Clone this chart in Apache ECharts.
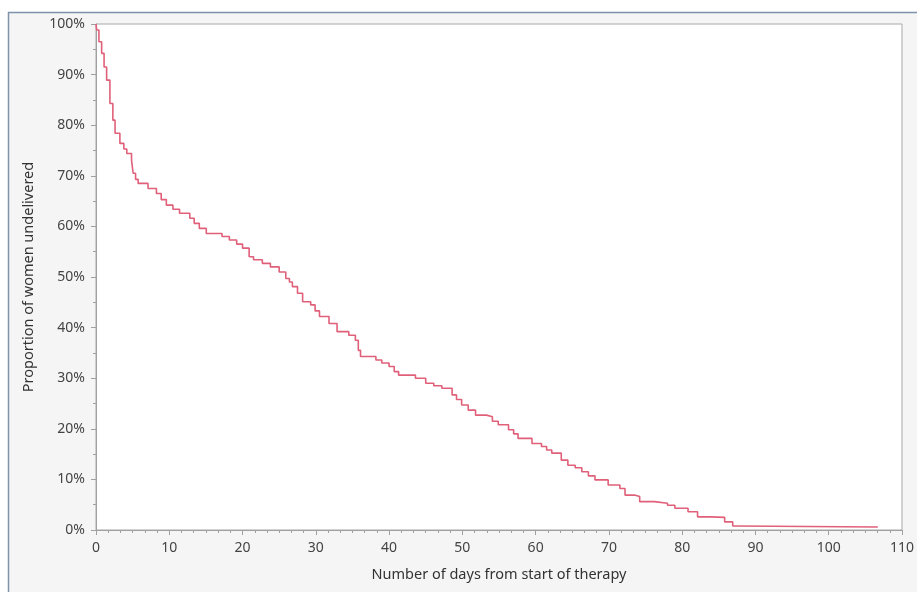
<!DOCTYPE html>
<html><head><meta charset="utf-8">
<script src="https://cdn.jsdelivr.net/npm/echarts@6/dist/echarts.min.js"></script>
<style>html,body{margin:0;padding:0;background:#fff}#c{width:917px;height:592px}</style>
</head><body><div id="c"></div>
<script>
// Kaplan-Meier style survival curve (days, % undelivered)
var days = [0,0.1,0.4,0.77,1.1,1.45,1.9,2.3,2.6,3.26,3.8,4.2,4.85,5.07,5.4,5.75,7.1,8.25,8.9,9.6,10.5,11.4,12.8,13.4,14.1,15.05,17.2,18.2,19.2,20.0,20.9,21.5,22.7,23.8,25.0,25.9,26.4,26.8,27.5,28.2,29.3,29.9,30.5,31.8,32.9,34.5,35.4,35.8,36.1,38.2,39.0,40.0,40.7,41.3,43.6,45.0,46.1,47.2,48.6,49.2,49.9,50.8,51.8,53.3,54.1,54.9,56.3,57.0,57.6,59.5,60.8,61.5,62.2,63.5,64.4,65.4,66.3,67.2,68.1,69.9,71.5,72.2,73.5,74.2,76.2,78.0,79.0,80.8,82.1,83.9,85.8,86.9,87.4,106.7];
var undelivered = [100,98.8,96.5,94.2,91.5,88.9,84.3,81,78.4,76.4,75.3,74.4,73.1,70.5,69.3,68.5,67.5,66.5,65.3,64.2,63.4,62.6,61.6,60.6,59.6,58.6,58.0,57.3,56.5,55.7,54.0,53.4,52.7,52.0,51.0,49.7,49.0,48.1,46.8,45.1,44.5,43.3,42.2,40.8,39.2,38.5,37.5,35.5,34.3,33.6,33.0,32.3,31.3,30.6,30.0,29.0,28.5,28.0,26.7,25.8,24.7,23.7,22.7,22.4,21.5,20.8,19.8,19.0,18.1,17.1,16.5,15.8,15.2,13.8,12.8,12.3,11.5,10.7,9.9,8.9,8.2,6.9,6.6,5.6,5.3,4.9,4.3,3.6,2.6,2.5,1.6,0.8,0.6,0.6];
var xTicks = [0,10,20,30,40,50,60,70,80,90,100,110];
var yTicks = [0,10,20,30,40,50,60,70,80,90,100];

var pts = days.map(function(d,i){return [d, undelivered[i]];});
var FONT = 'Noto Sans';
var chart = echarts.init(document.getElementById('c'), null, {renderer:'canvas'});
chart.setOption({
  animation:false,
  backgroundColor:'#fff',
  graphic:[
    {type:'rect', z:-10, shape:{x:8, y:12, width:909, height:580}, style:{fill:'#f5f5f5'}},
    {type:'line', z:-9, shape:{x1:8, y1:12.5, x2:917, y2:12.5}, style:{stroke:'#7f93ad', lineWidth:1.5}},
    {type:'line', z:-9, shape:{x1:8.5, y1:12, x2:8.5, y2:592}, style:{stroke:'#7f93ad', lineWidth:1.5}}
  ],
  grid:{left:96, top:24, right:12, bottom:62, show:true, backgroundColor:'#fff', borderColor:'#a8a8a8', borderWidth:1},
  xAxis:{
    type:'value', min:xTicks[0], max:xTicks[xTicks.length-1], interval:10,
    name:'Number of days from start of therapy', nameLocation:'middle', nameGap:37,
    nameTextStyle:{fontFamily:FONT, fontSize:14.5, color:'#333'},
    axisLine:{show:true, onZero:false, lineStyle:{color:'#a0a0a0'}},
    axisTick:{show:true, length:5, lineStyle:{color:'#a0a0a0'}},
    minorTick:{show:true, splitNumber:6, length:3, lineStyle:{color:'#a0a0a0'}},
    splitLine:{show:false},
    axisLabel:{fontFamily:FONT, fontSize:14, color:'#444', margin:11}
  },
  yAxis:{
    type:'value', min:yTicks[0], max:yTicks[yTicks.length-1], interval:10,
    name:'Proportion of women undelivered', nameLocation:'middle', nameGap:60, nameRotate:90,
    nameTextStyle:{fontFamily:FONT, fontSize:14.5, color:'#333'},
    axisLine:{show:true, lineStyle:{color:'#a0a0a0'}},
    axisTick:{show:true, length:5, lineStyle:{color:'#a0a0a0'}},
    minorTick:{show:true, splitNumber:2, length:3, lineStyle:{color:'#a0a0a0'}},
    splitLine:{show:false},
    axisLabel:{fontFamily:FONT, fontSize:14, color:'#444', margin:11, formatter:'{value}%'}
  },
  series:[{
    type:'line', data:pts, step:'end', showSymbol:false, symbol:'none',
    lineStyle:{color:'#e0607a', width:1.6}, clip:true
  }]
});
</script></body></html>
